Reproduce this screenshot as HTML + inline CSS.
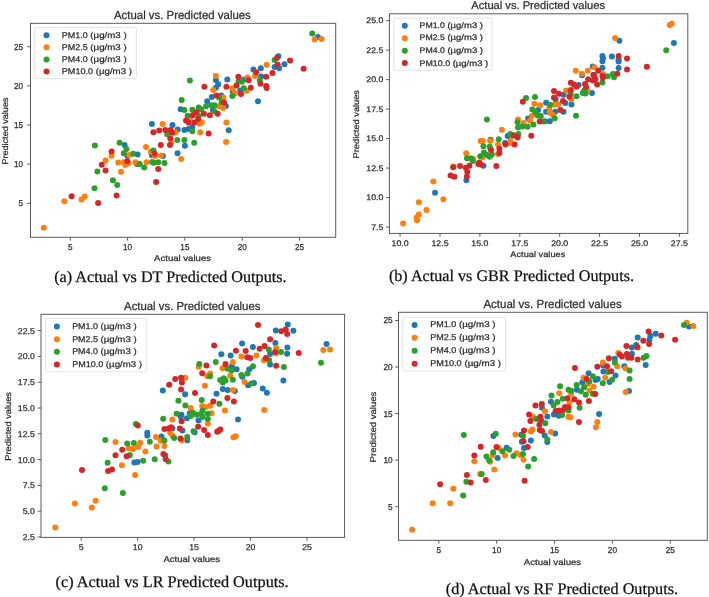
<!DOCTYPE html>
<html><head><meta charset="utf-8"><style>
html,body{margin:0;padding:0;background:#fff;}
svg{display:block;filter:blur(0px);}
</style></head><body>
<svg text-rendering="geometricPrecision" width="709" height="597" viewBox="0 0 709 597">
<rect width="709" height="597" fill="#fff"/>
<circle cx="124.6" cy="145.1" r="3.0" fill="#1f77b4"/>
<circle cx="127.5" cy="155.9" r="3.0" fill="#1f77b4"/>
<circle cx="137.6" cy="154.5" r="3.0" fill="#1f77b4"/>
<circle cx="137.0" cy="163.9" r="3.0" fill="#1f77b4"/>
<circle cx="151.8" cy="154.9" r="3.0" fill="#1f77b4"/>
<circle cx="162.9" cy="155.9" r="3.0" fill="#1f77b4"/>
<circle cx="151.9" cy="124.1" r="3.0" fill="#1f77b4"/>
<circle cx="172.5" cy="124.9" r="3.0" fill="#1f77b4"/>
<circle cx="177.7" cy="129.6" r="3.0" fill="#1f77b4"/>
<circle cx="184.4" cy="130.1" r="3.0" fill="#1f77b4"/>
<circle cx="188.6" cy="129.1" r="3.0" fill="#1f77b4"/>
<circle cx="192.3" cy="127.0" r="3.0" fill="#1f77b4"/>
<circle cx="184.9" cy="145.7" r="3.0" fill="#1f77b4"/>
<circle cx="177.5" cy="153.2" r="3.0" fill="#1f77b4"/>
<circle cx="180.7" cy="109.3" r="3.0" fill="#1f77b4"/>
<circle cx="212.9" cy="110.0" r="3.0" fill="#1f77b4"/>
<circle cx="207.1" cy="101.3" r="3.0" fill="#1f77b4"/>
<circle cx="215.9" cy="79.9" r="3.0" fill="#1f77b4"/>
<circle cx="218.2" cy="84.3" r="3.0" fill="#1f77b4"/>
<circle cx="215.9" cy="87.7" r="3.0" fill="#1f77b4"/>
<circle cx="227.3" cy="79.6" r="3.0" fill="#1f77b4"/>
<circle cx="232.8" cy="91.2" r="3.0" fill="#1f77b4"/>
<circle cx="243.9" cy="79.6" r="3.0" fill="#1f77b4"/>
<circle cx="240.2" cy="90.5" r="3.0" fill="#1f77b4"/>
<circle cx="253.4" cy="69.5" r="3.0" fill="#1f77b4"/>
<circle cx="260.8" cy="68.3" r="3.0" fill="#1f77b4"/>
<circle cx="274.6" cy="66.9" r="3.0" fill="#1f77b4"/>
<circle cx="261.1" cy="76.4" r="3.0" fill="#1f77b4"/>
<circle cx="258.0" cy="101.3" r="3.0" fill="#1f77b4"/>
<circle cx="211.8" cy="97.0" r="3.0" fill="#1f77b4"/>
<circle cx="221.2" cy="95.4" r="3.0" fill="#1f77b4"/>
<circle cx="225.9" cy="106.0" r="3.0" fill="#1f77b4"/>
<circle cx="317.9" cy="37.0" r="3.0" fill="#1f77b4"/>
<circle cx="278.4" cy="56.3" r="3.0" fill="#1f77b4"/>
<circle cx="284.4" cy="64.3" r="3.0" fill="#1f77b4"/>
<circle cx="279.1" cy="68.3" r="3.0" fill="#1f77b4"/>
<circle cx="228.7" cy="130.2" r="3.0" fill="#1f77b4"/>
<circle cx="43.8" cy="227.8" r="3.0" fill="#ff7f0e"/>
<circle cx="64.3" cy="201.2" r="3.0" fill="#ff7f0e"/>
<circle cx="81.5" cy="199.4" r="3.0" fill="#ff7f0e"/>
<circle cx="84.7" cy="196.6" r="3.0" fill="#ff7f0e"/>
<circle cx="105.6" cy="160.6" r="3.0" fill="#ff7f0e"/>
<circle cx="111.5" cy="155.7" r="3.0" fill="#ff7f0e"/>
<circle cx="118.3" cy="162.5" r="3.0" fill="#ff7f0e"/>
<circle cx="121.0" cy="171.8" r="3.0" fill="#ff7f0e"/>
<circle cx="125.2" cy="165.0" r="3.0" fill="#ff7f0e"/>
<circle cx="123.8" cy="162.3" r="3.0" fill="#ff7f0e"/>
<circle cx="128.6" cy="163.3" r="3.0" fill="#ff7f0e"/>
<circle cx="129.1" cy="155.1" r="3.0" fill="#ff7f0e"/>
<circle cx="135.4" cy="162.3" r="3.0" fill="#ff7f0e"/>
<circle cx="146.5" cy="162.3" r="3.0" fill="#ff7f0e"/>
<circle cx="146.0" cy="146.9" r="3.0" fill="#ff7f0e"/>
<circle cx="150.8" cy="151.7" r="3.0" fill="#ff7f0e"/>
<circle cx="154.8" cy="155.9" r="3.0" fill="#ff7f0e"/>
<circle cx="161.0" cy="155.4" r="3.0" fill="#ff7f0e"/>
<circle cx="171.4" cy="142.5" r="3.0" fill="#ff7f0e"/>
<circle cx="162.7" cy="124.1" r="3.0" fill="#ff7f0e"/>
<circle cx="175.4" cy="132.6" r="3.0" fill="#ff7f0e"/>
<circle cx="200.2" cy="132.3" r="3.0" fill="#ff7f0e"/>
<circle cx="181.2" cy="159.0" r="3.0" fill="#ff7f0e"/>
<circle cx="189.7" cy="119.0" r="3.0" fill="#ff7f0e"/>
<circle cx="199.2" cy="123.8" r="3.0" fill="#ff7f0e"/>
<circle cx="201.8" cy="122.4" r="3.0" fill="#ff7f0e"/>
<circle cx="218.8" cy="106.3" r="3.0" fill="#ff7f0e"/>
<circle cx="223.0" cy="107.9" r="3.0" fill="#ff7f0e"/>
<circle cx="215.9" cy="75.7" r="3.0" fill="#ff7f0e"/>
<circle cx="213.2" cy="90.1" r="3.0" fill="#ff7f0e"/>
<circle cx="232.3" cy="88.3" r="3.0" fill="#ff7f0e"/>
<circle cx="247.6" cy="77.5" r="3.0" fill="#ff7f0e"/>
<circle cx="246.5" cy="90.7" r="3.0" fill="#ff7f0e"/>
<circle cx="234.9" cy="93.6" r="3.0" fill="#ff7f0e"/>
<circle cx="266.6" cy="64.8" r="3.0" fill="#ff7f0e"/>
<circle cx="255.0" cy="75.9" r="3.0" fill="#ff7f0e"/>
<circle cx="223.3" cy="97.6" r="3.0" fill="#ff7f0e"/>
<circle cx="226.4" cy="122.4" r="3.0" fill="#ff7f0e"/>
<circle cx="314.6" cy="39.4" r="3.0" fill="#ff7f0e"/>
<circle cx="321.6" cy="38.9" r="3.0" fill="#ff7f0e"/>
<circle cx="226.1" cy="141.9" r="3.0" fill="#ff7f0e"/>
<circle cx="94.5" cy="188.3" r="3.0" fill="#2ca02c"/>
<circle cx="112.9" cy="180.2" r="3.0" fill="#2ca02c"/>
<circle cx="117.2" cy="185.0" r="3.0" fill="#2ca02c"/>
<circle cx="97.4" cy="171.6" r="3.0" fill="#2ca02c"/>
<circle cx="119.6" cy="142.7" r="3.0" fill="#2ca02c"/>
<circle cx="126.4" cy="149.0" r="3.0" fill="#2ca02c"/>
<circle cx="123.8" cy="153.3" r="3.0" fill="#2ca02c"/>
<circle cx="133.3" cy="153.8" r="3.0" fill="#2ca02c"/>
<circle cx="139.7" cy="164.1" r="3.0" fill="#2ca02c"/>
<circle cx="144.2" cy="167.6" r="3.0" fill="#2ca02c"/>
<circle cx="153.4" cy="150.6" r="3.0" fill="#2ca02c"/>
<circle cx="153.9" cy="162.8" r="3.0" fill="#2ca02c"/>
<circle cx="158.2" cy="162.3" r="3.0" fill="#2ca02c"/>
<circle cx="164.5" cy="163.0" r="3.0" fill="#2ca02c"/>
<circle cx="167.2" cy="134.2" r="3.0" fill="#2ca02c"/>
<circle cx="177.3" cy="140.0" r="3.0" fill="#2ca02c"/>
<circle cx="192.3" cy="131.2" r="3.0" fill="#2ca02c"/>
<circle cx="184.4" cy="140.0" r="3.0" fill="#2ca02c"/>
<circle cx="194.2" cy="142.8" r="3.0" fill="#2ca02c"/>
<circle cx="152.1" cy="161.9" r="3.0" fill="#2ca02c"/>
<circle cx="184.4" cy="110.0" r="3.0" fill="#2ca02c"/>
<circle cx="187.6" cy="115.7" r="3.0" fill="#2ca02c"/>
<circle cx="192.3" cy="109.7" r="3.0" fill="#2ca02c"/>
<circle cx="198.7" cy="107.4" r="3.0" fill="#2ca02c"/>
<circle cx="201.3" cy="109.5" r="3.0" fill="#2ca02c"/>
<circle cx="198.7" cy="115.9" r="3.0" fill="#2ca02c"/>
<circle cx="206.1" cy="106.3" r="3.0" fill="#2ca02c"/>
<circle cx="211.4" cy="105.3" r="3.0" fill="#2ca02c"/>
<circle cx="214.5" cy="105.3" r="3.0" fill="#2ca02c"/>
<circle cx="214.5" cy="111.6" r="3.0" fill="#2ca02c"/>
<circle cx="181.7" cy="100.0" r="3.0" fill="#2ca02c"/>
<circle cx="94.9" cy="145.6" r="3.0" fill="#2ca02c"/>
<circle cx="238.6" cy="81.2" r="3.0" fill="#2ca02c"/>
<circle cx="241.8" cy="81.7" r="3.0" fill="#2ca02c"/>
<circle cx="243.9" cy="88.3" r="3.0" fill="#2ca02c"/>
<circle cx="232.3" cy="96.0" r="3.0" fill="#2ca02c"/>
<circle cx="274.6" cy="60.0" r="3.0" fill="#2ca02c"/>
<circle cx="259.8" cy="80.6" r="3.0" fill="#2ca02c"/>
<circle cx="219.0" cy="97.6" r="3.0" fill="#2ca02c"/>
<circle cx="221.7" cy="102.3" r="3.0" fill="#2ca02c"/>
<circle cx="312.2" cy="33.6" r="3.0" fill="#2ca02c"/>
<circle cx="189.9" cy="80.4" r="3.0" fill="#2ca02c"/>
<circle cx="71.6" cy="196.3" r="3.0" fill="#d62728"/>
<circle cx="98.1" cy="202.9" r="3.0" fill="#d62728"/>
<circle cx="116.6" cy="195.5" r="3.0" fill="#d62728"/>
<circle cx="101.8" cy="164.7" r="3.0" fill="#d62728"/>
<circle cx="105.5" cy="170.6" r="3.0" fill="#d62728"/>
<circle cx="127.3" cy="161.3" r="3.0" fill="#d62728"/>
<circle cx="111.6" cy="151.5" r="3.0" fill="#d62728"/>
<circle cx="154.8" cy="153.8" r="3.0" fill="#d62728"/>
<circle cx="158.2" cy="168.9" r="3.0" fill="#d62728"/>
<circle cx="156.1" cy="182.0" r="3.0" fill="#d62728"/>
<circle cx="160.8" cy="145.1" r="3.0" fill="#d62728"/>
<circle cx="170.0" cy="145.1" r="3.0" fill="#d62728"/>
<circle cx="170.3" cy="138.5" r="3.0" fill="#d62728"/>
<circle cx="153.4" cy="132.3" r="3.0" fill="#d62728"/>
<circle cx="159.2" cy="130.5" r="3.0" fill="#d62728"/>
<circle cx="165.3" cy="130.1" r="3.0" fill="#d62728"/>
<circle cx="170.6" cy="130.1" r="3.0" fill="#d62728"/>
<circle cx="172.2" cy="132.8" r="3.0" fill="#d62728"/>
<circle cx="208.7" cy="133.6" r="3.0" fill="#d62728"/>
<circle cx="192.8" cy="115.3" r="3.0" fill="#d62728"/>
<circle cx="196.5" cy="112.2" r="3.0" fill="#d62728"/>
<circle cx="203.9" cy="113.8" r="3.0" fill="#d62728"/>
<circle cx="186.0" cy="120.6" r="3.0" fill="#d62728"/>
<circle cx="188.6" cy="122.4" r="3.0" fill="#d62728"/>
<circle cx="194.4" cy="122.4" r="3.0" fill="#d62728"/>
<circle cx="198.1" cy="119.0" r="3.0" fill="#d62728"/>
<circle cx="209.8" cy="115.3" r="3.0" fill="#d62728"/>
<circle cx="217.7" cy="113.8" r="3.0" fill="#d62728"/>
<circle cx="224.0" cy="102.6" r="3.0" fill="#d62728"/>
<circle cx="204.4" cy="86.7" r="3.0" fill="#d62728"/>
<circle cx="226.4" cy="86.7" r="3.0" fill="#d62728"/>
<circle cx="236.5" cy="85.4" r="3.0" fill="#d62728"/>
<circle cx="238.3" cy="76.7" r="3.0" fill="#d62728"/>
<circle cx="248.7" cy="80.3" r="3.0" fill="#d62728"/>
<circle cx="250.8" cy="87.7" r="3.0" fill="#d62728"/>
<circle cx="241.0" cy="94.1" r="3.0" fill="#d62728"/>
<circle cx="256.1" cy="72.2" r="3.0" fill="#d62728"/>
<circle cx="266.1" cy="76.7" r="3.0" fill="#d62728"/>
<circle cx="272.5" cy="72.9" r="3.0" fill="#d62728"/>
<circle cx="260.5" cy="83.8" r="3.0" fill="#d62728"/>
<circle cx="266.6" cy="88.0" r="3.0" fill="#d62728"/>
<circle cx="216.4" cy="95.4" r="3.0" fill="#d62728"/>
<circle cx="277.0" cy="57.7" r="3.0" fill="#d62728"/>
<circle cx="290.0" cy="60.6" r="3.0" fill="#d62728"/>
<circle cx="277.7" cy="64.8" r="3.0" fill="#d62728"/>
<circle cx="303.6" cy="68.7" r="3.0" fill="#d62728"/>
<circle cx="266.2" cy="85.9" r="3.0" fill="#d62728"/>
<rect x="30.5" y="23.3" width="305.20" height="214.00" fill="none" stroke="#5a5a5a" stroke-width="1.0"/>
<line x1="70.30" y1="237.3" x2="70.30" y2="240.60000000000002" stroke="#5a5a5a" stroke-width="1.0"/>
<text x="70.30" y="249.80" font-size="8.60" font-family="'Liberation Sans', sans-serif" fill="#2e2e2e" stroke="#2e2e2e" stroke-width="0.25" text-anchor="middle" textLength="4.55" lengthAdjust="spacingAndGlyphs">5</text>
<line x1="127.60" y1="237.3" x2="127.60" y2="240.60000000000002" stroke="#5a5a5a" stroke-width="1.0"/>
<text x="127.60" y="249.80" font-size="8.60" font-family="'Liberation Sans', sans-serif" fill="#2e2e2e" stroke="#2e2e2e" stroke-width="0.25" text-anchor="middle" textLength="9.10" lengthAdjust="spacingAndGlyphs">10</text>
<line x1="184.90" y1="237.3" x2="184.90" y2="240.60000000000002" stroke="#5a5a5a" stroke-width="1.0"/>
<text x="184.90" y="249.80" font-size="8.60" font-family="'Liberation Sans', sans-serif" fill="#2e2e2e" stroke="#2e2e2e" stroke-width="0.25" text-anchor="middle" textLength="9.10" lengthAdjust="spacingAndGlyphs">15</text>
<line x1="242.20" y1="237.3" x2="242.20" y2="240.60000000000002" stroke="#5a5a5a" stroke-width="1.0"/>
<text x="242.20" y="249.80" font-size="8.60" font-family="'Liberation Sans', sans-serif" fill="#2e2e2e" stroke="#2e2e2e" stroke-width="0.25" text-anchor="middle" textLength="9.10" lengthAdjust="spacingAndGlyphs">20</text>
<line x1="299.50" y1="237.3" x2="299.50" y2="240.60000000000002" stroke="#5a5a5a" stroke-width="1.0"/>
<text x="299.50" y="249.80" font-size="8.60" font-family="'Liberation Sans', sans-serif" fill="#2e2e2e" stroke="#2e2e2e" stroke-width="0.25" text-anchor="middle" textLength="9.10" lengthAdjust="spacingAndGlyphs">25</text>
<line x1="27.2" y1="203.30" x2="30.5" y2="203.30" stroke="#5a5a5a" stroke-width="1.0"/>
<text x="23.10" y="206.25" font-size="8.60" font-family="'Liberation Sans', sans-serif" fill="#2e2e2e" stroke="#2e2e2e" stroke-width="0.25" text-anchor="end" textLength="4.55" lengthAdjust="spacingAndGlyphs">5</text>
<line x1="27.2" y1="164.16" x2="30.5" y2="164.16" stroke="#5a5a5a" stroke-width="1.0"/>
<text x="23.10" y="167.11" font-size="8.60" font-family="'Liberation Sans', sans-serif" fill="#2e2e2e" stroke="#2e2e2e" stroke-width="0.25" text-anchor="end" textLength="9.10" lengthAdjust="spacingAndGlyphs">10</text>
<line x1="27.2" y1="125.02" x2="30.5" y2="125.02" stroke="#5a5a5a" stroke-width="1.0"/>
<text x="23.10" y="127.97" font-size="8.60" font-family="'Liberation Sans', sans-serif" fill="#2e2e2e" stroke="#2e2e2e" stroke-width="0.25" text-anchor="end" textLength="9.10" lengthAdjust="spacingAndGlyphs">15</text>
<line x1="27.2" y1="85.88" x2="30.5" y2="85.88" stroke="#5a5a5a" stroke-width="1.0"/>
<text x="23.10" y="88.83" font-size="8.60" font-family="'Liberation Sans', sans-serif" fill="#2e2e2e" stroke="#2e2e2e" stroke-width="0.25" text-anchor="end" textLength="9.10" lengthAdjust="spacingAndGlyphs">20</text>
<line x1="27.2" y1="46.74" x2="30.5" y2="46.74" stroke="#5a5a5a" stroke-width="1.0"/>
<text x="23.10" y="49.69" font-size="8.60" font-family="'Liberation Sans', sans-serif" fill="#2e2e2e" stroke="#2e2e2e" stroke-width="0.25" text-anchor="end" textLength="9.10" lengthAdjust="spacingAndGlyphs">25</text>
<text x="114.00" y="19.20" font-size="11.70" font-family="'Liberation Sans', sans-serif" fill="#2e2e2e" stroke="#2e2e2e" stroke-width="0.25" text-anchor="start" textLength="136.80" lengthAdjust="spacingAndGlyphs">Actual vs. Predicted values</text>
<text x="154.10" y="260.90" font-size="8.40" font-family="'Liberation Sans', sans-serif" fill="#2e2e2e" stroke="#2e2e2e" stroke-width="0.25" text-anchor="start" textLength="56.90" lengthAdjust="spacingAndGlyphs">Actual values</text>
<g transform="translate(7.6,164.6) rotate(-90)"><text x="0.00" y="0.00" font-size="8.40" font-family="'Liberation Sans', sans-serif" fill="#2e2e2e" stroke="#2e2e2e" stroke-width="0.25" text-anchor="start" textLength="67.10" lengthAdjust="spacingAndGlyphs">Predicted values</text></g>
<rect x="34.7" y="27.6" width="101.60" height="50.80" rx="1.5" fill="#ffffff" fill-opacity="0.8" stroke="#dcdcdc" stroke-width="0.8"/>
<circle cx="46.5" cy="35.2" r="3.0" fill="#1f77b4"/>
<text x="61.80" y="37.80" font-size="8.30" font-family="'Liberation Sans', sans-serif" fill="#2e2e2e" stroke="#2e2e2e" stroke-width="0.25" text-anchor="start" textLength="25.83" lengthAdjust="spacingAndGlyphs">PM1.0</text>
<text x="90.32" y="37.80" font-size="8.30" font-family="'Liberation Sans', sans-serif" fill="#2e2e2e" stroke="#2e2e2e" stroke-width="0.25" text-anchor="start" textLength="36.35" lengthAdjust="spacingAndGlyphs">(µg/m3 )</text>
<circle cx="46.5" cy="47.33" r="3.0" fill="#ff7f0e"/>
<text x="61.80" y="49.80" font-size="8.30" font-family="'Liberation Sans', sans-serif" fill="#2e2e2e" stroke="#2e2e2e" stroke-width="0.25" text-anchor="start" textLength="25.83" lengthAdjust="spacingAndGlyphs">PM2.5</text>
<text x="90.32" y="49.80" font-size="8.30" font-family="'Liberation Sans', sans-serif" fill="#2e2e2e" stroke="#2e2e2e" stroke-width="0.25" text-anchor="start" textLength="36.35" lengthAdjust="spacingAndGlyphs">(µg/m3 )</text>
<circle cx="46.5" cy="59.47" r="3.0" fill="#2ca02c"/>
<text x="61.80" y="61.80" font-size="8.30" font-family="'Liberation Sans', sans-serif" fill="#2e2e2e" stroke="#2e2e2e" stroke-width="0.25" text-anchor="start" textLength="25.83" lengthAdjust="spacingAndGlyphs">PM4.0</text>
<text x="90.32" y="61.80" font-size="8.30" font-family="'Liberation Sans', sans-serif" fill="#2e2e2e" stroke="#2e2e2e" stroke-width="0.25" text-anchor="start" textLength="36.35" lengthAdjust="spacingAndGlyphs">(µg/m3 )</text>
<circle cx="46.5" cy="71.6" r="3.0" fill="#d62728"/>
<text x="61.80" y="73.80" font-size="8.30" font-family="'Liberation Sans', sans-serif" fill="#2e2e2e" stroke="#2e2e2e" stroke-width="0.25" text-anchor="start" textLength="31.21" lengthAdjust="spacingAndGlyphs">PM10.0</text>
<text x="95.69" y="73.80" font-size="8.30" font-family="'Liberation Sans', sans-serif" fill="#2e2e2e" stroke="#2e2e2e" stroke-width="0.25" text-anchor="start" textLength="36.35" lengthAdjust="spacingAndGlyphs">(µg/m3 )</text>
<text x="54.20" y="281.60" font-size="16.20" font-family="'Liberation Serif', serif" fill="#111111" stroke="#111111" stroke-width="0.25" text-anchor="start" textLength="232.40" lengthAdjust="spacingAndGlyphs">(a) Actual vs DT Predicted Outputs.</text>
<circle cx="435.0" cy="192.8" r="3.0" fill="#1f77b4"/>
<circle cx="466.4" cy="180.3" r="3.0" fill="#1f77b4"/>
<circle cx="483.4" cy="165.7" r="3.0" fill="#1f77b4"/>
<circle cx="490.6" cy="139.8" r="3.0" fill="#1f77b4"/>
<circle cx="505.1" cy="143.0" r="3.0" fill="#1f77b4"/>
<circle cx="507.7" cy="136.1" r="3.0" fill="#1f77b4"/>
<circle cx="528.1" cy="118.6" r="3.0" fill="#1f77b4"/>
<circle cx="545.0" cy="121.2" r="3.0" fill="#1f77b4"/>
<circle cx="549.8" cy="121.2" r="3.0" fill="#1f77b4"/>
<circle cx="538.1" cy="110.1" r="3.0" fill="#1f77b4"/>
<circle cx="546.1" cy="102.7" r="3.0" fill="#1f77b4"/>
<circle cx="546.1" cy="111.7" r="3.0" fill="#1f77b4"/>
<circle cx="555.1" cy="111.7" r="3.0" fill="#1f77b4"/>
<circle cx="563.5" cy="111.7" r="3.0" fill="#1f77b4"/>
<circle cx="555.6" cy="99.5" r="3.0" fill="#1f77b4"/>
<circle cx="563.5" cy="94.8" r="3.0" fill="#1f77b4"/>
<circle cx="565.4" cy="103.1" r="3.0" fill="#1f77b4"/>
<circle cx="571.5" cy="104.5" r="3.0" fill="#1f77b4"/>
<circle cx="592.0" cy="92.9" r="3.0" fill="#1f77b4"/>
<circle cx="578.6" cy="85.1" r="3.0" fill="#1f77b4"/>
<circle cx="595.5" cy="79.3" r="3.0" fill="#1f77b4"/>
<circle cx="582.1" cy="75.3" r="3.0" fill="#1f77b4"/>
<circle cx="592.7" cy="66.4" r="3.0" fill="#1f77b4"/>
<circle cx="602.4" cy="67.7" r="3.0" fill="#1f77b4"/>
<circle cx="602.4" cy="61.3" r="3.0" fill="#1f77b4"/>
<circle cx="602.9" cy="58.2" r="3.0" fill="#1f77b4"/>
<circle cx="602.4" cy="56.1" r="3.0" fill="#1f77b4"/>
<circle cx="611.9" cy="56.6" r="3.0" fill="#1f77b4"/>
<circle cx="619.4" cy="40.7" r="3.0" fill="#1f77b4"/>
<circle cx="618.6" cy="59.5" r="3.0" fill="#1f77b4"/>
<circle cx="618.6" cy="61.6" r="3.0" fill="#1f77b4"/>
<circle cx="618.6" cy="67.9" r="3.0" fill="#1f77b4"/>
<circle cx="673.9" cy="43.1" r="3.0" fill="#1f77b4"/>
<circle cx="593.3" cy="74.8" r="3.0" fill="#1f77b4"/>
<circle cx="403.1" cy="223.5" r="3.0" fill="#ff7f0e"/>
<circle cx="416.7" cy="217.4" r="3.0" fill="#ff7f0e"/>
<circle cx="417.0" cy="220.2" r="3.0" fill="#ff7f0e"/>
<circle cx="418.8" cy="214.5" r="3.0" fill="#ff7f0e"/>
<circle cx="426.5" cy="210.0" r="3.0" fill="#ff7f0e"/>
<circle cx="418.8" cy="202.2" r="3.0" fill="#ff7f0e"/>
<circle cx="433.3" cy="181.4" r="3.0" fill="#ff7f0e"/>
<circle cx="443.4" cy="199.2" r="3.0" fill="#ff7f0e"/>
<circle cx="453.5" cy="166.5" r="3.0" fill="#ff7f0e"/>
<circle cx="466.2" cy="153.3" r="3.0" fill="#ff7f0e"/>
<circle cx="473.3" cy="159.1" r="3.0" fill="#ff7f0e"/>
<circle cx="482.8" cy="157.3" r="3.0" fill="#ff7f0e"/>
<circle cx="480.7" cy="140.9" r="3.0" fill="#ff7f0e"/>
<circle cx="482.8" cy="140.9" r="3.0" fill="#ff7f0e"/>
<circle cx="490.2" cy="140.9" r="3.0" fill="#ff7f0e"/>
<circle cx="498.0" cy="144.6" r="3.0" fill="#ff7f0e"/>
<circle cx="498.0" cy="154.1" r="3.0" fill="#ff7f0e"/>
<circle cx="501.9" cy="129.8" r="3.0" fill="#ff7f0e"/>
<circle cx="510.3" cy="140.9" r="3.0" fill="#ff7f0e"/>
<circle cx="510.3" cy="142.9" r="3.0" fill="#ff7f0e"/>
<circle cx="518.0" cy="119.6" r="3.0" fill="#ff7f0e"/>
<circle cx="523.6" cy="123.0" r="3.0" fill="#ff7f0e"/>
<circle cx="530.0" cy="120.7" r="3.0" fill="#ff7f0e"/>
<circle cx="531.8" cy="115.9" r="3.0" fill="#ff7f0e"/>
<circle cx="534.4" cy="103.8" r="3.0" fill="#ff7f0e"/>
<circle cx="540.2" cy="105.3" r="3.0" fill="#ff7f0e"/>
<circle cx="554.5" cy="104.8" r="3.0" fill="#ff7f0e"/>
<circle cx="558.2" cy="104.3" r="3.0" fill="#ff7f0e"/>
<circle cx="549.2" cy="108.5" r="3.0" fill="#ff7f0e"/>
<circle cx="549.8" cy="112.7" r="3.0" fill="#ff7f0e"/>
<circle cx="552.9" cy="114.9" r="3.0" fill="#ff7f0e"/>
<circle cx="566.2" cy="90.4" r="3.0" fill="#ff7f0e"/>
<circle cx="571.2" cy="99.2" r="3.0" fill="#ff7f0e"/>
<circle cx="587.6" cy="91.0" r="3.0" fill="#ff7f0e"/>
<circle cx="575.8" cy="70.7" r="3.0" fill="#ff7f0e"/>
<circle cx="581.8" cy="73.8" r="3.0" fill="#ff7f0e"/>
<circle cx="587.8" cy="70.7" r="3.0" fill="#ff7f0e"/>
<circle cx="594.5" cy="67.2" r="3.0" fill="#ff7f0e"/>
<circle cx="602.9" cy="74.0" r="3.0" fill="#ff7f0e"/>
<circle cx="615.1" cy="38.1" r="3.0" fill="#ff7f0e"/>
<circle cx="669.7" cy="25.1" r="3.0" fill="#ff7f0e"/>
<circle cx="671.8" cy="23.7" r="3.0" fill="#ff7f0e"/>
<circle cx="467.0" cy="158.3" r="3.0" fill="#2ca02c"/>
<circle cx="470.7" cy="158.3" r="3.0" fill="#2ca02c"/>
<circle cx="472.8" cy="161.0" r="3.0" fill="#2ca02c"/>
<circle cx="480.2" cy="156.2" r="3.0" fill="#2ca02c"/>
<circle cx="483.9" cy="152.5" r="3.0" fill="#2ca02c"/>
<circle cx="487.1" cy="155.1" r="3.0" fill="#2ca02c"/>
<circle cx="489.7" cy="156.7" r="3.0" fill="#2ca02c"/>
<circle cx="491.8" cy="154.6" r="3.0" fill="#2ca02c"/>
<circle cx="483.4" cy="146.2" r="3.0" fill="#2ca02c"/>
<circle cx="489.7" cy="146.7" r="3.0" fill="#2ca02c"/>
<circle cx="498.7" cy="139.3" r="3.0" fill="#2ca02c"/>
<circle cx="510.3" cy="134.0" r="3.0" fill="#2ca02c"/>
<circle cx="512.8" cy="135.6" r="3.0" fill="#2ca02c"/>
<circle cx="518.3" cy="133.9" r="3.0" fill="#2ca02c"/>
<circle cx="517.5" cy="122.3" r="3.0" fill="#2ca02c"/>
<circle cx="518.0" cy="127.6" r="3.0" fill="#2ca02c"/>
<circle cx="522.3" cy="126.5" r="3.0" fill="#2ca02c"/>
<circle cx="527.6" cy="126.8" r="3.0" fill="#2ca02c"/>
<circle cx="533.4" cy="124.4" r="3.0" fill="#2ca02c"/>
<circle cx="532.3" cy="109.6" r="3.0" fill="#2ca02c"/>
<circle cx="535.5" cy="112.2" r="3.0" fill="#2ca02c"/>
<circle cx="537.6" cy="115.4" r="3.0" fill="#2ca02c"/>
<circle cx="540.8" cy="115.9" r="3.0" fill="#2ca02c"/>
<circle cx="543.4" cy="121.5" r="3.0" fill="#2ca02c"/>
<circle cx="526.0" cy="97.9" r="3.0" fill="#2ca02c"/>
<circle cx="535.0" cy="96.9" r="3.0" fill="#2ca02c"/>
<circle cx="550.1" cy="104.8" r="3.0" fill="#2ca02c"/>
<circle cx="554.7" cy="118.3" r="3.0" fill="#2ca02c"/>
<circle cx="576.0" cy="115.8" r="3.0" fill="#2ca02c"/>
<circle cx="576.5" cy="96.3" r="3.0" fill="#2ca02c"/>
<circle cx="570.7" cy="94.1" r="3.0" fill="#2ca02c"/>
<circle cx="582.8" cy="93.1" r="3.0" fill="#2ca02c"/>
<circle cx="585.5" cy="93.6" r="3.0" fill="#2ca02c"/>
<circle cx="602.4" cy="82.5" r="3.0" fill="#2ca02c"/>
<circle cx="607.7" cy="76.2" r="3.0" fill="#2ca02c"/>
<circle cx="613.0" cy="74.0" r="3.0" fill="#2ca02c"/>
<circle cx="614.0" cy="77.2" r="3.0" fill="#2ca02c"/>
<circle cx="666.2" cy="50.2" r="3.0" fill="#2ca02c"/>
<circle cx="486.9" cy="119.6" r="3.0" fill="#2ca02c"/>
<circle cx="584.3" cy="90.6" r="3.0" fill="#2ca02c"/>
<circle cx="450.5" cy="175.4" r="3.0" fill="#d62728"/>
<circle cx="454.4" cy="176.8" r="3.0" fill="#d62728"/>
<circle cx="453.2" cy="167.3" r="3.0" fill="#d62728"/>
<circle cx="460.1" cy="166.1" r="3.0" fill="#d62728"/>
<circle cx="466.9" cy="176.6" r="3.0" fill="#d62728"/>
<circle cx="467.3" cy="172.1" r="3.0" fill="#d62728"/>
<circle cx="465.9" cy="167.8" r="3.0" fill="#d62728"/>
<circle cx="469.4" cy="165.7" r="3.0" fill="#d62728"/>
<circle cx="478.3" cy="164.1" r="3.0" fill="#d62728"/>
<circle cx="480.7" cy="164.4" r="3.0" fill="#d62728"/>
<circle cx="491.0" cy="149.9" r="3.0" fill="#d62728"/>
<circle cx="499.4" cy="148.8" r="3.0" fill="#d62728"/>
<circle cx="499.4" cy="153.0" r="3.0" fill="#d62728"/>
<circle cx="496.3" cy="166.0" r="3.0" fill="#d62728"/>
<circle cx="505.6" cy="144.6" r="3.0" fill="#d62728"/>
<circle cx="514.0" cy="135.6" r="3.0" fill="#d62728"/>
<circle cx="514.6" cy="144.6" r="3.0" fill="#d62728"/>
<circle cx="517.7" cy="137.4" r="3.0" fill="#d62728"/>
<circle cx="531.3" cy="135.7" r="3.0" fill="#d62728"/>
<circle cx="539.7" cy="121.5" r="3.0" fill="#d62728"/>
<circle cx="522.8" cy="101.8" r="3.0" fill="#d62728"/>
<circle cx="560.3" cy="110.1" r="3.0" fill="#d62728"/>
<circle cx="563.0" cy="101.1" r="3.0" fill="#d62728"/>
<circle cx="554.0" cy="97.4" r="3.0" fill="#d62728"/>
<circle cx="558.8" cy="93.7" r="3.0" fill="#d62728"/>
<circle cx="554.0" cy="91.1" r="3.0" fill="#d62728"/>
<circle cx="570.9" cy="89.9" r="3.0" fill="#d62728"/>
<circle cx="569.4" cy="96.5" r="3.0" fill="#d62728"/>
<circle cx="570.9" cy="82.7" r="3.0" fill="#d62728"/>
<circle cx="573.9" cy="84.6" r="3.0" fill="#d62728"/>
<circle cx="576.5" cy="86.7" r="3.0" fill="#d62728"/>
<circle cx="585.0" cy="84.1" r="3.0" fill="#d62728"/>
<circle cx="586.0" cy="86.7" r="3.0" fill="#d62728"/>
<circle cx="588.1" cy="79.3" r="3.0" fill="#d62728"/>
<circle cx="592.9" cy="80.4" r="3.0" fill="#d62728"/>
<circle cx="597.1" cy="84.4" r="3.0" fill="#d62728"/>
<circle cx="593.9" cy="75.1" r="3.0" fill="#d62728"/>
<circle cx="598.2" cy="70.7" r="3.0" fill="#d62728"/>
<circle cx="602.9" cy="77.7" r="3.0" fill="#d62728"/>
<circle cx="618.6" cy="56.1" r="3.0" fill="#d62728"/>
<circle cx="627.0" cy="58.4" r="3.0" fill="#d62728"/>
<circle cx="627.0" cy="69.5" r="3.0" fill="#d62728"/>
<circle cx="646.9" cy="66.7" r="3.0" fill="#d62728"/>
<circle cx="602.5" cy="75.9" r="3.0" fill="#d62728"/>
<circle cx="617.3" cy="73.8" r="3.0" fill="#d62728"/>
<circle cx="479.3" cy="162.4" r="3.0" fill="#d62728"/>
<circle cx="594.9" cy="78.5" r="3.0" fill="#d62728"/>
<rect x="389.4" y="13.8" width="298.40" height="219.60" fill="none" stroke="#5a5a5a" stroke-width="1.0"/>
<line x1="400.10" y1="233.4" x2="400.10" y2="236.70000000000002" stroke="#5a5a5a" stroke-width="1.0"/>
<text x="400.10" y="245.80" font-size="8.10" font-family="'Liberation Sans', sans-serif" fill="#2e2e2e" stroke="#2e2e2e" stroke-width="0.25" text-anchor="middle" textLength="17.08" lengthAdjust="spacingAndGlyphs">10.0</text>
<line x1="440.00" y1="233.4" x2="440.00" y2="236.70000000000002" stroke="#5a5a5a" stroke-width="1.0"/>
<text x="440.00" y="245.80" font-size="8.10" font-family="'Liberation Sans', sans-serif" fill="#2e2e2e" stroke="#2e2e2e" stroke-width="0.25" text-anchor="middle" textLength="17.08" lengthAdjust="spacingAndGlyphs">12.5</text>
<line x1="479.90" y1="233.4" x2="479.90" y2="236.70000000000002" stroke="#5a5a5a" stroke-width="1.0"/>
<text x="479.90" y="245.80" font-size="8.10" font-family="'Liberation Sans', sans-serif" fill="#2e2e2e" stroke="#2e2e2e" stroke-width="0.25" text-anchor="middle" textLength="17.08" lengthAdjust="spacingAndGlyphs">15.0</text>
<line x1="519.80" y1="233.4" x2="519.80" y2="236.70000000000002" stroke="#5a5a5a" stroke-width="1.0"/>
<text x="519.80" y="245.80" font-size="8.10" font-family="'Liberation Sans', sans-serif" fill="#2e2e2e" stroke="#2e2e2e" stroke-width="0.25" text-anchor="middle" textLength="17.08" lengthAdjust="spacingAndGlyphs">17.5</text>
<line x1="559.70" y1="233.4" x2="559.70" y2="236.70000000000002" stroke="#5a5a5a" stroke-width="1.0"/>
<text x="559.70" y="245.80" font-size="8.10" font-family="'Liberation Sans', sans-serif" fill="#2e2e2e" stroke="#2e2e2e" stroke-width="0.25" text-anchor="middle" textLength="17.08" lengthAdjust="spacingAndGlyphs">20.0</text>
<line x1="599.60" y1="233.4" x2="599.60" y2="236.70000000000002" stroke="#5a5a5a" stroke-width="1.0"/>
<text x="599.60" y="245.80" font-size="8.10" font-family="'Liberation Sans', sans-serif" fill="#2e2e2e" stroke="#2e2e2e" stroke-width="0.25" text-anchor="middle" textLength="17.08" lengthAdjust="spacingAndGlyphs">22.5</text>
<line x1="639.50" y1="233.4" x2="639.50" y2="236.70000000000002" stroke="#5a5a5a" stroke-width="1.0"/>
<text x="639.50" y="245.80" font-size="8.10" font-family="'Liberation Sans', sans-serif" fill="#2e2e2e" stroke="#2e2e2e" stroke-width="0.25" text-anchor="middle" textLength="17.08" lengthAdjust="spacingAndGlyphs">25.0</text>
<line x1="679.40" y1="233.4" x2="679.40" y2="236.70000000000002" stroke="#5a5a5a" stroke-width="1.0"/>
<text x="679.40" y="245.80" font-size="8.10" font-family="'Liberation Sans', sans-serif" fill="#2e2e2e" stroke="#2e2e2e" stroke-width="0.25" text-anchor="middle" textLength="17.08" lengthAdjust="spacingAndGlyphs">27.5</text>
<line x1="386.09999999999997" y1="227.00" x2="389.4" y2="227.00" stroke="#5a5a5a" stroke-width="1.0"/>
<text x="383.40" y="229.75" font-size="8.10" font-family="'Liberation Sans', sans-serif" fill="#2e2e2e" stroke="#2e2e2e" stroke-width="0.25" text-anchor="end" textLength="12.20" lengthAdjust="spacingAndGlyphs">7.5</text>
<line x1="386.09999999999997" y1="197.53" x2="389.4" y2="197.53" stroke="#5a5a5a" stroke-width="1.0"/>
<text x="383.40" y="200.28" font-size="8.10" font-family="'Liberation Sans', sans-serif" fill="#2e2e2e" stroke="#2e2e2e" stroke-width="0.25" text-anchor="end" textLength="17.08" lengthAdjust="spacingAndGlyphs">10.0</text>
<line x1="386.09999999999997" y1="168.05" x2="389.4" y2="168.05" stroke="#5a5a5a" stroke-width="1.0"/>
<text x="383.40" y="170.80" font-size="8.10" font-family="'Liberation Sans', sans-serif" fill="#2e2e2e" stroke="#2e2e2e" stroke-width="0.25" text-anchor="end" textLength="17.08" lengthAdjust="spacingAndGlyphs">12.5</text>
<line x1="386.09999999999997" y1="138.57" x2="389.4" y2="138.57" stroke="#5a5a5a" stroke-width="1.0"/>
<text x="383.40" y="141.32" font-size="8.10" font-family="'Liberation Sans', sans-serif" fill="#2e2e2e" stroke="#2e2e2e" stroke-width="0.25" text-anchor="end" textLength="17.08" lengthAdjust="spacingAndGlyphs">15.0</text>
<line x1="386.09999999999997" y1="109.10" x2="389.4" y2="109.10" stroke="#5a5a5a" stroke-width="1.0"/>
<text x="383.40" y="111.85" font-size="8.10" font-family="'Liberation Sans', sans-serif" fill="#2e2e2e" stroke="#2e2e2e" stroke-width="0.25" text-anchor="end" textLength="17.08" lengthAdjust="spacingAndGlyphs">17.5</text>
<line x1="386.09999999999997" y1="79.62" x2="389.4" y2="79.62" stroke="#5a5a5a" stroke-width="1.0"/>
<text x="383.40" y="82.38" font-size="8.10" font-family="'Liberation Sans', sans-serif" fill="#2e2e2e" stroke="#2e2e2e" stroke-width="0.25" text-anchor="end" textLength="17.08" lengthAdjust="spacingAndGlyphs">20.0</text>
<line x1="386.09999999999997" y1="50.15" x2="389.4" y2="50.15" stroke="#5a5a5a" stroke-width="1.0"/>
<text x="383.40" y="52.90" font-size="8.10" font-family="'Liberation Sans', sans-serif" fill="#2e2e2e" stroke="#2e2e2e" stroke-width="0.25" text-anchor="end" textLength="17.08" lengthAdjust="spacingAndGlyphs">22.5</text>
<line x1="386.09999999999997" y1="20.68" x2="389.4" y2="20.68" stroke="#5a5a5a" stroke-width="1.0"/>
<text x="383.40" y="23.43" font-size="8.10" font-family="'Liberation Sans', sans-serif" fill="#2e2e2e" stroke="#2e2e2e" stroke-width="0.25" text-anchor="end" textLength="17.08" lengthAdjust="spacingAndGlyphs">25.0</text>
<text x="471.30" y="8.80" font-size="11.20" font-family="'Liberation Sans', sans-serif" fill="#2e2e2e" stroke="#2e2e2e" stroke-width="0.25" text-anchor="start" textLength="133.70" lengthAdjust="spacingAndGlyphs">Actual vs. Predicted values</text>
<text x="510.30" y="257.00" font-size="8.10" font-family="'Liberation Sans', sans-serif" fill="#2e2e2e" stroke="#2e2e2e" stroke-width="0.25" text-anchor="start" textLength="55.00" lengthAdjust="spacingAndGlyphs">Actual values</text>
<g transform="translate(359.0,158.4) rotate(-90)"><text x="0.00" y="0.00" font-size="8.30" font-family="'Liberation Sans', sans-serif" fill="#2e2e2e" stroke="#2e2e2e" stroke-width="0.25" text-anchor="start" textLength="68.40" lengthAdjust="spacingAndGlyphs">Predicted values</text></g>
<rect x="393.8" y="18.1" width="98.40" height="52.10" rx="1.5" fill="#ffffff" fill-opacity="0.8" stroke="#dcdcdc" stroke-width="0.8"/>
<circle cx="404.8" cy="25.7" r="3.0" fill="#1f77b4"/>
<text x="419.60" y="27.90" font-size="8.10" font-family="'Liberation Sans', sans-serif" fill="#2e2e2e" stroke="#2e2e2e" stroke-width="0.25" text-anchor="start" textLength="25.23" lengthAdjust="spacingAndGlyphs">PM1.0</text>
<text x="447.46" y="27.90" font-size="8.10" font-family="'Liberation Sans', sans-serif" fill="#2e2e2e" stroke="#2e2e2e" stroke-width="0.25" text-anchor="start" textLength="35.51" lengthAdjust="spacingAndGlyphs">(µg/m3 )</text>
<circle cx="404.8" cy="38.17" r="3.0" fill="#ff7f0e"/>
<text x="419.60" y="40.43" font-size="8.10" font-family="'Liberation Sans', sans-serif" fill="#2e2e2e" stroke="#2e2e2e" stroke-width="0.25" text-anchor="start" textLength="25.23" lengthAdjust="spacingAndGlyphs">PM2.5</text>
<text x="447.46" y="40.43" font-size="8.10" font-family="'Liberation Sans', sans-serif" fill="#2e2e2e" stroke="#2e2e2e" stroke-width="0.25" text-anchor="start" textLength="35.51" lengthAdjust="spacingAndGlyphs">(µg/m3 )</text>
<circle cx="404.8" cy="50.63" r="3.0" fill="#2ca02c"/>
<text x="419.60" y="52.97" font-size="8.10" font-family="'Liberation Sans', sans-serif" fill="#2e2e2e" stroke="#2e2e2e" stroke-width="0.25" text-anchor="start" textLength="25.23" lengthAdjust="spacingAndGlyphs">PM4.0</text>
<text x="447.46" y="52.97" font-size="8.10" font-family="'Liberation Sans', sans-serif" fill="#2e2e2e" stroke="#2e2e2e" stroke-width="0.25" text-anchor="start" textLength="35.51" lengthAdjust="spacingAndGlyphs">(µg/m3 )</text>
<circle cx="404.8" cy="63.1" r="3.0" fill="#d62728"/>
<text x="419.60" y="65.50" font-size="8.10" font-family="'Liberation Sans', sans-serif" fill="#2e2e2e" stroke="#2e2e2e" stroke-width="0.25" text-anchor="start" textLength="30.49" lengthAdjust="spacingAndGlyphs">PM10.0</text>
<text x="452.71" y="65.50" font-size="8.10" font-family="'Liberation Sans', sans-serif" fill="#2e2e2e" stroke="#2e2e2e" stroke-width="0.25" text-anchor="start" textLength="35.51" lengthAdjust="spacingAndGlyphs">(µg/m3 )</text>
<text x="388.90" y="281.00" font-size="16.20" font-family="'Liberation Serif', serif" fill="#111111" stroke="#111111" stroke-width="0.25" text-anchor="start" textLength="245.10" lengthAdjust="spacingAndGlyphs">(b) Actual vs GBR Predicted Outputs.</text>
<circle cx="147.3" cy="432.8" r="3.0" fill="#1f77b4"/>
<circle cx="147.3" cy="435.4" r="3.0" fill="#1f77b4"/>
<circle cx="161.5" cy="436.5" r="3.0" fill="#1f77b4"/>
<circle cx="165.3" cy="455.5" r="3.0" fill="#1f77b4"/>
<circle cx="137.5" cy="461.9" r="3.0" fill="#1f77b4"/>
<circle cx="134.3" cy="462.4" r="3.0" fill="#1f77b4"/>
<circle cx="172.4" cy="428.6" r="3.0" fill="#1f77b4"/>
<circle cx="182.4" cy="430.5" r="3.0" fill="#1f77b4"/>
<circle cx="187.2" cy="440.2" r="3.0" fill="#1f77b4"/>
<circle cx="181.4" cy="414.8" r="3.0" fill="#1f77b4"/>
<circle cx="180.8" cy="416.7" r="3.0" fill="#1f77b4"/>
<circle cx="186.9" cy="418.2" r="3.0" fill="#1f77b4"/>
<circle cx="189.8" cy="413.2" r="3.0" fill="#1f77b4"/>
<circle cx="221.3" cy="354.3" r="3.0" fill="#1f77b4"/>
<circle cx="230.6" cy="355.4" r="3.0" fill="#1f77b4"/>
<circle cx="231.8" cy="366.2" r="3.0" fill="#1f77b4"/>
<circle cx="236.6" cy="369.3" r="3.0" fill="#1f77b4"/>
<circle cx="249.3" cy="369.3" r="3.0" fill="#1f77b4"/>
<circle cx="242.4" cy="376.7" r="3.0" fill="#1f77b4"/>
<circle cx="248.2" cy="385.2" r="3.0" fill="#1f77b4"/>
<circle cx="254.0" cy="383.1" r="3.0" fill="#1f77b4"/>
<circle cx="185.1" cy="394.2" r="3.0" fill="#1f77b4"/>
<circle cx="216.5" cy="393.7" r="3.0" fill="#1f77b4"/>
<circle cx="222.8" cy="388.9" r="3.0" fill="#1f77b4"/>
<circle cx="227.6" cy="390.0" r="3.0" fill="#1f77b4"/>
<circle cx="234.8" cy="391.0" r="3.0" fill="#1f77b4"/>
<circle cx="287.8" cy="324.6" r="3.0" fill="#1f77b4"/>
<circle cx="275.8" cy="330.5" r="3.0" fill="#1f77b4"/>
<circle cx="293.4" cy="330.7" r="3.0" fill="#1f77b4"/>
<circle cx="275.4" cy="342.9" r="3.0" fill="#1f77b4"/>
<circle cx="242.1" cy="343.4" r="3.0" fill="#1f77b4"/>
<circle cx="252.9" cy="347.1" r="3.0" fill="#1f77b4"/>
<circle cx="287.4" cy="347.4" r="3.0" fill="#1f77b4"/>
<circle cx="287.1" cy="353.8" r="3.0" fill="#1f77b4"/>
<circle cx="270.1" cy="354.0" r="3.0" fill="#1f77b4"/>
<circle cx="270.1" cy="364.5" r="3.0" fill="#1f77b4"/>
<circle cx="283.4" cy="380.4" r="3.0" fill="#1f77b4"/>
<circle cx="326.5" cy="344.1" r="3.0" fill="#1f77b4"/>
<circle cx="262.7" cy="388.5" r="3.0" fill="#1f77b4"/>
<circle cx="266.9" cy="392.7" r="3.0" fill="#1f77b4"/>
<circle cx="238.0" cy="419.5" r="3.0" fill="#1f77b4"/>
<circle cx="194.6" cy="432.3" r="3.0" fill="#1f77b4"/>
<circle cx="198.5" cy="420.6" r="3.0" fill="#1f77b4"/>
<circle cx="162.8" cy="390.5" r="3.0" fill="#1f77b4"/>
<circle cx="55.3" cy="527.5" r="3.0" fill="#ff7f0e"/>
<circle cx="74.9" cy="503.4" r="3.0" fill="#ff7f0e"/>
<circle cx="91.8" cy="507.6" r="3.0" fill="#ff7f0e"/>
<circle cx="95.6" cy="500.7" r="3.0" fill="#ff7f0e"/>
<circle cx="121.9" cy="465.2" r="3.0" fill="#ff7f0e"/>
<circle cx="115.5" cy="442.0" r="3.0" fill="#ff7f0e"/>
<circle cx="128.8" cy="448.3" r="3.0" fill="#ff7f0e"/>
<circle cx="133.0" cy="448.9" r="3.0" fill="#ff7f0e"/>
<circle cx="140.1" cy="442.8" r="3.0" fill="#ff7f0e"/>
<circle cx="138.0" cy="447.1" r="3.0" fill="#ff7f0e"/>
<circle cx="145.4" cy="451.6" r="3.0" fill="#ff7f0e"/>
<circle cx="156.0" cy="437.0" r="3.0" fill="#ff7f0e"/>
<circle cx="160.7" cy="440.7" r="3.0" fill="#ff7f0e"/>
<circle cx="156.5" cy="446.5" r="3.0" fill="#ff7f0e"/>
<circle cx="164.4" cy="446.0" r="3.0" fill="#ff7f0e"/>
<circle cx="172.4" cy="419.6" r="3.0" fill="#ff7f0e"/>
<circle cx="170.2" cy="432.8" r="3.0" fill="#ff7f0e"/>
<circle cx="172.4" cy="435.4" r="3.0" fill="#ff7f0e"/>
<circle cx="181.9" cy="440.2" r="3.0" fill="#ff7f0e"/>
<circle cx="190.7" cy="407.9" r="3.0" fill="#ff7f0e"/>
<circle cx="241.4" cy="356.6" r="3.0" fill="#ff7f0e"/>
<circle cx="198.8" cy="366.7" r="3.0" fill="#ff7f0e"/>
<circle cx="232.9" cy="361.9" r="3.0" fill="#ff7f0e"/>
<circle cx="222.5" cy="368.3" r="3.0" fill="#ff7f0e"/>
<circle cx="207.3" cy="376.2" r="3.0" fill="#ff7f0e"/>
<circle cx="210.1" cy="373.6" r="3.0" fill="#ff7f0e"/>
<circle cx="185.3" cy="377.8" r="3.0" fill="#ff7f0e"/>
<circle cx="230.2" cy="375.7" r="3.0" fill="#ff7f0e"/>
<circle cx="244.5" cy="382.0" r="3.0" fill="#ff7f0e"/>
<circle cx="204.9" cy="385.7" r="3.0" fill="#ff7f0e"/>
<circle cx="232.9" cy="390.0" r="3.0" fill="#ff7f0e"/>
<circle cx="202.2" cy="406.1" r="3.0" fill="#ff7f0e"/>
<circle cx="210.1" cy="405.8" r="3.0" fill="#ff7f0e"/>
<circle cx="276.2" cy="348.1" r="3.0" fill="#ff7f0e"/>
<circle cx="276.0" cy="353.4" r="3.0" fill="#ff7f0e"/>
<circle cx="256.4" cy="355.6" r="3.0" fill="#ff7f0e"/>
<circle cx="263.8" cy="360.3" r="3.0" fill="#ff7f0e"/>
<circle cx="323.3" cy="350.1" r="3.0" fill="#ff7f0e"/>
<circle cx="330.0" cy="349.4" r="3.0" fill="#ff7f0e"/>
<circle cx="264.1" cy="410.0" r="3.0" fill="#ff7f0e"/>
<circle cx="235.8" cy="436.2" r="3.0" fill="#ff7f0e"/>
<circle cx="211.5" cy="413.2" r="3.0" fill="#ff7f0e"/>
<circle cx="207.8" cy="423.8" r="3.0" fill="#ff7f0e"/>
<circle cx="205.7" cy="406.9" r="3.0" fill="#ff7f0e"/>
<circle cx="224.9" cy="410.4" r="3.0" fill="#ff7f0e"/>
<circle cx="135.1" cy="474.9" r="3.0" fill="#ff7f0e"/>
<circle cx="233.4" cy="437.2" r="3.0" fill="#ff7f0e"/>
<circle cx="104.8" cy="488.3" r="3.0" fill="#2ca02c"/>
<circle cx="107.6" cy="462.8" r="3.0" fill="#2ca02c"/>
<circle cx="129.8" cy="455.0" r="3.0" fill="#2ca02c"/>
<circle cx="105.3" cy="439.9" r="3.0" fill="#2ca02c"/>
<circle cx="127.2" cy="443.6" r="3.0" fill="#2ca02c"/>
<circle cx="133.8" cy="443.0" r="3.0" fill="#2ca02c"/>
<circle cx="149.8" cy="441.8" r="3.0" fill="#2ca02c"/>
<circle cx="164.4" cy="440.5" r="3.0" fill="#2ca02c"/>
<circle cx="168.4" cy="461.4" r="3.0" fill="#2ca02c"/>
<circle cx="154.7" cy="459.2" r="3.0" fill="#2ca02c"/>
<circle cx="143.1" cy="460.8" r="3.0" fill="#2ca02c"/>
<circle cx="135.9" cy="424.1" r="3.0" fill="#2ca02c"/>
<circle cx="163.2" cy="418.8" r="3.0" fill="#2ca02c"/>
<circle cx="174.2" cy="438.1" r="3.0" fill="#2ca02c"/>
<circle cx="187.2" cy="437.0" r="3.0" fill="#2ca02c"/>
<circle cx="176.6" cy="413.8" r="3.0" fill="#2ca02c"/>
<circle cx="190.9" cy="415.9" r="3.0" fill="#2ca02c"/>
<circle cx="193.0" cy="412.7" r="3.0" fill="#2ca02c"/>
<circle cx="185.4" cy="405.5" r="3.0" fill="#2ca02c"/>
<circle cx="178.4" cy="400.8" r="3.0" fill="#2ca02c"/>
<circle cx="193.5" cy="431.2" r="3.0" fill="#2ca02c"/>
<circle cx="199.3" cy="364.0" r="3.0" fill="#2ca02c"/>
<circle cx="215.8" cy="361.9" r="3.0" fill="#2ca02c"/>
<circle cx="227.6" cy="368.8" r="3.0" fill="#2ca02c"/>
<circle cx="231.6" cy="370.4" r="3.0" fill="#2ca02c"/>
<circle cx="253.0" cy="366.2" r="3.0" fill="#2ca02c"/>
<circle cx="210.1" cy="376.2" r="3.0" fill="#2ca02c"/>
<circle cx="232.9" cy="379.7" r="3.0" fill="#2ca02c"/>
<circle cx="241.4" cy="375.1" r="3.0" fill="#2ca02c"/>
<circle cx="247.5" cy="373.6" r="3.0" fill="#2ca02c"/>
<circle cx="220.2" cy="379.9" r="3.0" fill="#2ca02c"/>
<circle cx="223.9" cy="378.3" r="3.0" fill="#2ca02c"/>
<circle cx="222.8" cy="382.6" r="3.0" fill="#2ca02c"/>
<circle cx="225.5" cy="380.4" r="3.0" fill="#2ca02c"/>
<circle cx="251.4" cy="383.6" r="3.0" fill="#2ca02c"/>
<circle cx="201.7" cy="400.0" r="3.0" fill="#2ca02c"/>
<circle cx="219.4" cy="403.7" r="3.0" fill="#2ca02c"/>
<circle cx="268.8" cy="349.5" r="3.0" fill="#2ca02c"/>
<circle cx="281.0" cy="351.9" r="3.0" fill="#2ca02c"/>
<circle cx="269.1" cy="360.3" r="3.0" fill="#2ca02c"/>
<circle cx="283.9" cy="366.9" r="3.0" fill="#2ca02c"/>
<circle cx="321.0" cy="362.8" r="3.0" fill="#2ca02c"/>
<circle cx="196.7" cy="414.8" r="3.0" fill="#2ca02c"/>
<circle cx="202.5" cy="410.6" r="3.0" fill="#2ca02c"/>
<circle cx="201.4" cy="413.8" r="3.0" fill="#2ca02c"/>
<circle cx="202.5" cy="416.9" r="3.0" fill="#2ca02c"/>
<circle cx="207.8" cy="413.8" r="3.0" fill="#2ca02c"/>
<circle cx="207.8" cy="419.0" r="3.0" fill="#2ca02c"/>
<circle cx="122.9" cy="493.1" r="3.0" fill="#2ca02c"/>
<circle cx="82.0" cy="470.0" r="3.0" fill="#d62728"/>
<circle cx="108.1" cy="470.9" r="3.0" fill="#d62728"/>
<circle cx="112.0" cy="469.5" r="3.0" fill="#d62728"/>
<circle cx="115.5" cy="455.2" r="3.0" fill="#d62728"/>
<circle cx="122.2" cy="449.7" r="3.0" fill="#d62728"/>
<circle cx="126.6" cy="456.3" r="3.0" fill="#d62728"/>
<circle cx="163.4" cy="453.9" r="3.0" fill="#d62728"/>
<circle cx="165.7" cy="459.2" r="3.0" fill="#d62728"/>
<circle cx="137.8" cy="425.4" r="3.0" fill="#d62728"/>
<circle cx="164.4" cy="429.1" r="3.0" fill="#d62728"/>
<circle cx="168.7" cy="428.6" r="3.0" fill="#d62728"/>
<circle cx="171.0" cy="427.3" r="3.0" fill="#d62728"/>
<circle cx="179.8" cy="428.6" r="3.0" fill="#d62728"/>
<circle cx="181.6" cy="421.2" r="3.0" fill="#d62728"/>
<circle cx="180.5" cy="438.6" r="3.0" fill="#d62728"/>
<circle cx="214.1" cy="345.5" r="3.0" fill="#d62728"/>
<circle cx="235.9" cy="350.8" r="3.0" fill="#d62728"/>
<circle cx="245.6" cy="351.1" r="3.0" fill="#d62728"/>
<circle cx="247.2" cy="357.2" r="3.0" fill="#d62728"/>
<circle cx="250.3" cy="357.9" r="3.0" fill="#d62728"/>
<circle cx="206.4" cy="365.6" r="3.0" fill="#d62728"/>
<circle cx="225.5" cy="364.0" r="3.0" fill="#d62728"/>
<circle cx="202.2" cy="373.3" r="3.0" fill="#d62728"/>
<circle cx="181.1" cy="377.8" r="3.0" fill="#d62728"/>
<circle cx="181.9" cy="382.6" r="3.0" fill="#d62728"/>
<circle cx="181.1" cy="389.4" r="3.0" fill="#d62728"/>
<circle cx="195.0" cy="393.1" r="3.0" fill="#d62728"/>
<circle cx="213.3" cy="401.6" r="3.0" fill="#d62728"/>
<circle cx="227.4" cy="397.9" r="3.0" fill="#d62728"/>
<circle cx="233.9" cy="401.6" r="3.0" fill="#d62728"/>
<circle cx="258.0" cy="324.9" r="3.0" fill="#d62728"/>
<circle cx="281.3" cy="331.2" r="3.0" fill="#d62728"/>
<circle cx="285.7" cy="329.4" r="3.0" fill="#d62728"/>
<circle cx="287.1" cy="333.9" r="3.0" fill="#d62728"/>
<circle cx="270.1" cy="339.2" r="3.0" fill="#d62728"/>
<circle cx="259.6" cy="348.7" r="3.0" fill="#d62728"/>
<circle cx="264.5" cy="346.0" r="3.0" fill="#d62728"/>
<circle cx="275.1" cy="351.9" r="3.0" fill="#d62728"/>
<circle cx="298.7" cy="353.1" r="3.0" fill="#d62728"/>
<circle cx="265.9" cy="358.0" r="3.0" fill="#d62728"/>
<circle cx="276.2" cy="365.8" r="3.0" fill="#d62728"/>
<circle cx="218.9" cy="430.7" r="3.0" fill="#d62728"/>
<circle cx="207.8" cy="435.1" r="3.0" fill="#d62728"/>
<circle cx="204.1" cy="430.1" r="3.0" fill="#d62728"/>
<circle cx="198.1" cy="426.7" r="3.0" fill="#d62728"/>
<circle cx="169.2" cy="384.7" r="3.0" fill="#d62728"/>
<circle cx="175.2" cy="378.9" r="3.0" fill="#d62728"/>
<circle cx="217.2" cy="431.8" r="3.0" fill="#d62728"/>
<circle cx="220.3" cy="429.4" r="3.0" fill="#d62728"/>
<rect x="41.0" y="314.3" width="303.60" height="223.10" fill="none" stroke="#5a5a5a" stroke-width="1.0"/>
<line x1="81.20" y1="537.4" x2="81.20" y2="540.6999999999999" stroke="#5a5a5a" stroke-width="1.0"/>
<text x="81.20" y="550.20" font-size="8.40" font-family="'Liberation Sans', sans-serif" fill="#2e2e2e" stroke="#2e2e2e" stroke-width="0.25" text-anchor="middle" textLength="4.85" lengthAdjust="spacingAndGlyphs">5</text>
<line x1="137.65" y1="537.4" x2="137.65" y2="540.6999999999999" stroke="#5a5a5a" stroke-width="1.0"/>
<text x="137.65" y="550.20" font-size="8.40" font-family="'Liberation Sans', sans-serif" fill="#2e2e2e" stroke="#2e2e2e" stroke-width="0.25" text-anchor="middle" textLength="9.70" lengthAdjust="spacingAndGlyphs">10</text>
<line x1="194.10" y1="537.4" x2="194.10" y2="540.6999999999999" stroke="#5a5a5a" stroke-width="1.0"/>
<text x="194.10" y="550.20" font-size="8.40" font-family="'Liberation Sans', sans-serif" fill="#2e2e2e" stroke="#2e2e2e" stroke-width="0.25" text-anchor="middle" textLength="9.70" lengthAdjust="spacingAndGlyphs">15</text>
<line x1="250.55" y1="537.4" x2="250.55" y2="540.6999999999999" stroke="#5a5a5a" stroke-width="1.0"/>
<text x="250.55" y="550.20" font-size="8.40" font-family="'Liberation Sans', sans-serif" fill="#2e2e2e" stroke="#2e2e2e" stroke-width="0.25" text-anchor="middle" textLength="9.70" lengthAdjust="spacingAndGlyphs">20</text>
<line x1="307.00" y1="537.4" x2="307.00" y2="540.6999999999999" stroke="#5a5a5a" stroke-width="1.0"/>
<text x="307.00" y="550.20" font-size="8.40" font-family="'Liberation Sans', sans-serif" fill="#2e2e2e" stroke="#2e2e2e" stroke-width="0.25" text-anchor="middle" textLength="9.70" lengthAdjust="spacingAndGlyphs">25</text>
<line x1="37.7" y1="537.00" x2="41.0" y2="537.00" stroke="#5a5a5a" stroke-width="1.0"/>
<text x="34.80" y="539.90" font-size="8.40" font-family="'Liberation Sans', sans-serif" fill="#2e2e2e" stroke="#2e2e2e" stroke-width="0.25" text-anchor="end" textLength="12.12" lengthAdjust="spacingAndGlyphs">2.5</text>
<line x1="37.7" y1="511.20" x2="41.0" y2="511.20" stroke="#5a5a5a" stroke-width="1.0"/>
<text x="34.80" y="514.10" font-size="8.40" font-family="'Liberation Sans', sans-serif" fill="#2e2e2e" stroke="#2e2e2e" stroke-width="0.25" text-anchor="end" textLength="12.12" lengthAdjust="spacingAndGlyphs">5.0</text>
<line x1="37.7" y1="485.40" x2="41.0" y2="485.40" stroke="#5a5a5a" stroke-width="1.0"/>
<text x="34.80" y="488.30" font-size="8.40" font-family="'Liberation Sans', sans-serif" fill="#2e2e2e" stroke="#2e2e2e" stroke-width="0.25" text-anchor="end" textLength="12.12" lengthAdjust="spacingAndGlyphs">7.5</text>
<line x1="37.7" y1="459.60" x2="41.0" y2="459.60" stroke="#5a5a5a" stroke-width="1.0"/>
<text x="34.80" y="462.50" font-size="8.40" font-family="'Liberation Sans', sans-serif" fill="#2e2e2e" stroke="#2e2e2e" stroke-width="0.25" text-anchor="end" textLength="16.97" lengthAdjust="spacingAndGlyphs">10.0</text>
<line x1="37.7" y1="433.80" x2="41.0" y2="433.80" stroke="#5a5a5a" stroke-width="1.0"/>
<text x="34.80" y="436.70" font-size="8.40" font-family="'Liberation Sans', sans-serif" fill="#2e2e2e" stroke="#2e2e2e" stroke-width="0.25" text-anchor="end" textLength="16.97" lengthAdjust="spacingAndGlyphs">12.5</text>
<line x1="37.7" y1="408.00" x2="41.0" y2="408.00" stroke="#5a5a5a" stroke-width="1.0"/>
<text x="34.80" y="410.90" font-size="8.40" font-family="'Liberation Sans', sans-serif" fill="#2e2e2e" stroke="#2e2e2e" stroke-width="0.25" text-anchor="end" textLength="16.97" lengthAdjust="spacingAndGlyphs">15.0</text>
<line x1="37.7" y1="382.20" x2="41.0" y2="382.20" stroke="#5a5a5a" stroke-width="1.0"/>
<text x="34.80" y="385.10" font-size="8.40" font-family="'Liberation Sans', sans-serif" fill="#2e2e2e" stroke="#2e2e2e" stroke-width="0.25" text-anchor="end" textLength="16.97" lengthAdjust="spacingAndGlyphs">17.5</text>
<line x1="37.7" y1="356.40" x2="41.0" y2="356.40" stroke="#5a5a5a" stroke-width="1.0"/>
<text x="34.80" y="359.30" font-size="8.40" font-family="'Liberation Sans', sans-serif" fill="#2e2e2e" stroke="#2e2e2e" stroke-width="0.25" text-anchor="end" textLength="16.97" lengthAdjust="spacingAndGlyphs">20.0</text>
<line x1="37.7" y1="330.60" x2="41.0" y2="330.60" stroke="#5a5a5a" stroke-width="1.0"/>
<text x="34.80" y="333.50" font-size="8.40" font-family="'Liberation Sans', sans-serif" fill="#2e2e2e" stroke="#2e2e2e" stroke-width="0.25" text-anchor="end" textLength="16.97" lengthAdjust="spacingAndGlyphs">22.5</text>
<text x="124.10" y="309.80" font-size="11.60" font-family="'Liberation Sans', sans-serif" fill="#2e2e2e" stroke="#2e2e2e" stroke-width="0.25" text-anchor="start" textLength="136.30" lengthAdjust="spacingAndGlyphs">Actual vs. Predicted values</text>
<text x="163.50" y="562.00" font-size="8.40" font-family="'Liberation Sans', sans-serif" fill="#2e2e2e" stroke="#2e2e2e" stroke-width="0.25" text-anchor="start" textLength="56.60" lengthAdjust="spacingAndGlyphs">Actual values</text>
<g transform="translate(11.0,460.7) rotate(-90)"><text x="0.00" y="0.00" font-size="8.40" font-family="'Liberation Sans', sans-serif" fill="#2e2e2e" stroke="#2e2e2e" stroke-width="0.25" text-anchor="start" textLength="68.70" lengthAdjust="spacingAndGlyphs">Predicted values</text></g>
<rect x="45.6" y="318.5" width="100.70" height="53.30" rx="1.5" fill="#ffffff" fill-opacity="0.8" stroke="#dcdcdc" stroke-width="0.8"/>
<circle cx="56.9" cy="326.6" r="3.0" fill="#1f77b4"/>
<text x="72.20" y="329.00" font-size="8.30" font-family="'Liberation Sans', sans-serif" fill="#2e2e2e" stroke="#2e2e2e" stroke-width="0.25" text-anchor="start" textLength="25.67" lengthAdjust="spacingAndGlyphs">PM1.0</text>
<text x="100.54" y="329.00" font-size="8.30" font-family="'Liberation Sans', sans-serif" fill="#2e2e2e" stroke="#2e2e2e" stroke-width="0.25" text-anchor="start" textLength="36.12" lengthAdjust="spacingAndGlyphs">(µg/m3 )</text>
<circle cx="56.9" cy="339.2" r="3.0" fill="#ff7f0e"/>
<text x="72.20" y="341.67" font-size="8.30" font-family="'Liberation Sans', sans-serif" fill="#2e2e2e" stroke="#2e2e2e" stroke-width="0.25" text-anchor="start" textLength="25.67" lengthAdjust="spacingAndGlyphs">PM2.5</text>
<text x="100.54" y="341.67" font-size="8.30" font-family="'Liberation Sans', sans-serif" fill="#2e2e2e" stroke="#2e2e2e" stroke-width="0.25" text-anchor="start" textLength="36.12" lengthAdjust="spacingAndGlyphs">(µg/m3 )</text>
<circle cx="56.9" cy="351.8" r="3.0" fill="#2ca02c"/>
<text x="72.20" y="354.33" font-size="8.30" font-family="'Liberation Sans', sans-serif" fill="#2e2e2e" stroke="#2e2e2e" stroke-width="0.25" text-anchor="start" textLength="25.67" lengthAdjust="spacingAndGlyphs">PM4.0</text>
<text x="100.54" y="354.33" font-size="8.30" font-family="'Liberation Sans', sans-serif" fill="#2e2e2e" stroke="#2e2e2e" stroke-width="0.25" text-anchor="start" textLength="36.12" lengthAdjust="spacingAndGlyphs">(µg/m3 )</text>
<circle cx="56.9" cy="364.4" r="3.0" fill="#d62728"/>
<text x="72.20" y="367.00" font-size="8.30" font-family="'Liberation Sans', sans-serif" fill="#2e2e2e" stroke="#2e2e2e" stroke-width="0.25" text-anchor="start" textLength="31.01" lengthAdjust="spacingAndGlyphs">PM10.0</text>
<text x="105.89" y="367.00" font-size="8.30" font-family="'Liberation Sans', sans-serif" fill="#2e2e2e" stroke="#2e2e2e" stroke-width="0.25" text-anchor="start" textLength="36.12" lengthAdjust="spacingAndGlyphs">(µg/m3 )</text>
<text x="55.60" y="586.70" font-size="16.20" font-family="'Liberation Serif', serif" fill="#111111" stroke="#111111" stroke-width="0.25" text-anchor="start" textLength="233.10" lengthAdjust="spacingAndGlyphs">(c) Actual vs LR Predicted Outputs.</text>
<circle cx="493.4" cy="435.9" r="3.0" fill="#1f77b4"/>
<circle cx="497.6" cy="457.9" r="3.0" fill="#1f77b4"/>
<circle cx="506.6" cy="447.7" r="3.0" fill="#1f77b4"/>
<circle cx="524.0" cy="448.0" r="3.0" fill="#1f77b4"/>
<circle cx="521.1" cy="434.8" r="3.0" fill="#1f77b4"/>
<circle cx="521.9" cy="441.7" r="3.0" fill="#1f77b4"/>
<circle cx="530.9" cy="440.5" r="3.0" fill="#1f77b4"/>
<circle cx="544.7" cy="435.6" r="3.0" fill="#1f77b4"/>
<circle cx="547.3" cy="442.1" r="3.0" fill="#1f77b4"/>
<circle cx="555.2" cy="433.4" r="3.0" fill="#1f77b4"/>
<circle cx="541.5" cy="421.0" r="3.0" fill="#1f77b4"/>
<circle cx="547.3" cy="416.5" r="3.0" fill="#1f77b4"/>
<circle cx="542.0" cy="407.7" r="3.0" fill="#1f77b4"/>
<circle cx="551.0" cy="401.7" r="3.0" fill="#1f77b4"/>
<circle cx="576.9" cy="389.8" r="3.0" fill="#1f77b4"/>
<circle cx="553.9" cy="414.4" r="3.0" fill="#1f77b4"/>
<circle cx="558.9" cy="415.7" r="3.0" fill="#1f77b4"/>
<circle cx="582.3" cy="382.2" r="3.0" fill="#1f77b4"/>
<circle cx="588.6" cy="373.3" r="3.0" fill="#1f77b4"/>
<circle cx="595.7" cy="379.9" r="3.0" fill="#1f77b4"/>
<circle cx="597.8" cy="378.9" r="3.0" fill="#1f77b4"/>
<circle cx="609.5" cy="382.0" r="3.0" fill="#1f77b4"/>
<circle cx="615.5" cy="375.5" r="3.0" fill="#1f77b4"/>
<circle cx="603.4" cy="371.4" r="3.0" fill="#1f77b4"/>
<circle cx="603.1" cy="365.6" r="3.0" fill="#1f77b4"/>
<circle cx="614.8" cy="358.8" r="3.0" fill="#1f77b4"/>
<circle cx="624.3" cy="366.2" r="3.0" fill="#1f77b4"/>
<circle cx="629.0" cy="391.0" r="3.0" fill="#1f77b4"/>
<circle cx="689.0" cy="326.5" r="3.0" fill="#1f77b4"/>
<circle cx="655.7" cy="333.7" r="3.0" fill="#1f77b4"/>
<circle cx="650.4" cy="336.0" r="3.0" fill="#1f77b4"/>
<circle cx="649.4" cy="339.7" r="3.0" fill="#1f77b4"/>
<circle cx="637.7" cy="337.6" r="3.0" fill="#1f77b4"/>
<circle cx="636.2" cy="345.0" r="3.0" fill="#1f77b4"/>
<circle cx="631.9" cy="347.6" r="3.0" fill="#1f77b4"/>
<circle cx="631.9" cy="353.8" r="3.0" fill="#1f77b4"/>
<circle cx="645.7" cy="365.1" r="3.0" fill="#1f77b4"/>
<circle cx="599.1" cy="414.0" r="3.0" fill="#1f77b4"/>
<circle cx="412.1" cy="529.8" r="3.0" fill="#ff7f0e"/>
<circle cx="432.7" cy="503.3" r="3.0" fill="#ff7f0e"/>
<circle cx="450.2" cy="503.3" r="3.0" fill="#ff7f0e"/>
<circle cx="453.3" cy="488.8" r="3.0" fill="#ff7f0e"/>
<circle cx="474.3" cy="461.3" r="3.0" fill="#ff7f0e"/>
<circle cx="498.7" cy="448.0" r="3.0" fill="#ff7f0e"/>
<circle cx="492.8" cy="455.4" r="3.0" fill="#ff7f0e"/>
<circle cx="490.2" cy="461.8" r="3.0" fill="#ff7f0e"/>
<circle cx="505.0" cy="455.4" r="3.0" fill="#ff7f0e"/>
<circle cx="516.4" cy="453.3" r="3.0" fill="#ff7f0e"/>
<circle cx="520.3" cy="454.9" r="3.0" fill="#ff7f0e"/>
<circle cx="523.5" cy="459.7" r="3.0" fill="#ff7f0e"/>
<circle cx="515.4" cy="434.6" r="3.0" fill="#ff7f0e"/>
<circle cx="494.2" cy="469.5" r="3.0" fill="#ff7f0e"/>
<circle cx="480.1" cy="473.9" r="3.0" fill="#ff7f0e"/>
<circle cx="530.9" cy="431.5" r="3.0" fill="#ff7f0e"/>
<circle cx="532.5" cy="429.4" r="3.0" fill="#ff7f0e"/>
<circle cx="551.0" cy="432.1" r="3.0" fill="#ff7f0e"/>
<circle cx="533.0" cy="416.7" r="3.0" fill="#ff7f0e"/>
<circle cx="545.0" cy="411.2" r="3.0" fill="#ff7f0e"/>
<circle cx="559.2" cy="393.3" r="3.0" fill="#ff7f0e"/>
<circle cx="571.1" cy="394.0" r="3.0" fill="#ff7f0e"/>
<circle cx="569.5" cy="402.5" r="3.0" fill="#ff7f0e"/>
<circle cx="568.5" cy="416.7" r="3.0" fill="#ff7f0e"/>
<circle cx="583.6" cy="377.8" r="3.0" fill="#ff7f0e"/>
<circle cx="587.8" cy="384.1" r="3.0" fill="#ff7f0e"/>
<circle cx="589.4" cy="390.5" r="3.0" fill="#ff7f0e"/>
<circle cx="593.6" cy="386.8" r="3.0" fill="#ff7f0e"/>
<circle cx="605.2" cy="377.8" r="3.0" fill="#ff7f0e"/>
<circle cx="602.8" cy="362.5" r="3.0" fill="#ff7f0e"/>
<circle cx="617.2" cy="366.2" r="3.0" fill="#ff7f0e"/>
<circle cx="618.3" cy="352.9" r="3.0" fill="#ff7f0e"/>
<circle cx="625.7" cy="368.5" r="3.0" fill="#ff7f0e"/>
<circle cx="625.7" cy="392.1" r="3.0" fill="#ff7f0e"/>
<circle cx="686.7" cy="322.8" r="3.0" fill="#ff7f0e"/>
<circle cx="637.7" cy="347.6" r="3.0" fill="#ff7f0e"/>
<circle cx="693.3" cy="326.1" r="3.0" fill="#ff7f0e"/>
<circle cx="597.3" cy="422.0" r="3.0" fill="#ff7f0e"/>
<circle cx="595.9" cy="427.3" r="3.0" fill="#ff7f0e"/>
<circle cx="570.5" cy="417.2" r="3.0" fill="#ff7f0e"/>
<circle cx="463.2" cy="495.4" r="3.0" fill="#2ca02c"/>
<circle cx="466.4" cy="481.8" r="3.0" fill="#2ca02c"/>
<circle cx="463.8" cy="435.0" r="3.0" fill="#2ca02c"/>
<circle cx="495.7" cy="433.8" r="3.0" fill="#2ca02c"/>
<circle cx="493.2" cy="452.3" r="3.0" fill="#2ca02c"/>
<circle cx="486.5" cy="456.5" r="3.0" fill="#2ca02c"/>
<circle cx="489.1" cy="460.4" r="3.0" fill="#2ca02c"/>
<circle cx="502.4" cy="451.2" r="3.0" fill="#2ca02c"/>
<circle cx="509.2" cy="449.8" r="3.0" fill="#2ca02c"/>
<circle cx="513.5" cy="456.0" r="3.0" fill="#2ca02c"/>
<circle cx="523.0" cy="453.9" r="3.0" fill="#2ca02c"/>
<circle cx="523.0" cy="435.9" r="3.0" fill="#2ca02c"/>
<circle cx="481.7" cy="473.9" r="3.0" fill="#2ca02c"/>
<circle cx="547.3" cy="439.5" r="3.0" fill="#2ca02c"/>
<circle cx="536.2" cy="418.9" r="3.0" fill="#2ca02c"/>
<circle cx="545.4" cy="423.3" r="3.0" fill="#2ca02c"/>
<circle cx="551.5" cy="395.6" r="3.0" fill="#2ca02c"/>
<circle cx="560.0" cy="386.3" r="3.0" fill="#2ca02c"/>
<circle cx="568.5" cy="389.8" r="3.0" fill="#2ca02c"/>
<circle cx="571.1" cy="390.8" r="3.0" fill="#2ca02c"/>
<circle cx="576.7" cy="385.0" r="3.0" fill="#2ca02c"/>
<circle cx="553.7" cy="405.6" r="3.0" fill="#2ca02c"/>
<circle cx="557.4" cy="401.9" r="3.0" fill="#2ca02c"/>
<circle cx="562.7" cy="398.8" r="3.0" fill="#2ca02c"/>
<circle cx="562.1" cy="415.1" r="3.0" fill="#2ca02c"/>
<circle cx="568.5" cy="410.4" r="3.0" fill="#2ca02c"/>
<circle cx="579.6" cy="407.7" r="3.0" fill="#2ca02c"/>
<circle cx="592.9" cy="376.2" r="3.0" fill="#2ca02c"/>
<circle cx="589.4" cy="381.5" r="3.0" fill="#2ca02c"/>
<circle cx="584.1" cy="387.3" r="3.0" fill="#2ca02c"/>
<circle cx="580.9" cy="391.3" r="3.0" fill="#2ca02c"/>
<circle cx="585.7" cy="394.7" r="3.0" fill="#2ca02c"/>
<circle cx="592.9" cy="393.7" r="3.0" fill="#2ca02c"/>
<circle cx="602.8" cy="383.3" r="3.0" fill="#2ca02c"/>
<circle cx="612.1" cy="379.7" r="3.0" fill="#2ca02c"/>
<circle cx="607.9" cy="372.0" r="3.0" fill="#2ca02c"/>
<circle cx="614.8" cy="362.5" r="3.0" fill="#2ca02c"/>
<circle cx="629.6" cy="370.4" r="3.0" fill="#2ca02c"/>
<circle cx="629.6" cy="378.9" r="3.0" fill="#2ca02c"/>
<circle cx="684.0" cy="324.9" r="3.0" fill="#2ca02c"/>
<circle cx="643.6" cy="357.7" r="3.0" fill="#2ca02c"/>
<circle cx="646.5" cy="356.1" r="3.0" fill="#2ca02c"/>
<circle cx="528.1" cy="466.4" r="3.0" fill="#2ca02c"/>
<circle cx="534.1" cy="459.0" r="3.0" fill="#2ca02c"/>
<circle cx="440.1" cy="484.3" r="3.0" fill="#d62728"/>
<circle cx="470.6" cy="482.5" r="3.0" fill="#d62728"/>
<circle cx="466.9" cy="475.1" r="3.0" fill="#d62728"/>
<circle cx="480.7" cy="446.7" r="3.0" fill="#d62728"/>
<circle cx="474.3" cy="455.4" r="3.0" fill="#d62728"/>
<circle cx="496.5" cy="447.0" r="3.0" fill="#d62728"/>
<circle cx="523.5" cy="441.2" r="3.0" fill="#d62728"/>
<circle cx="524.0" cy="430.6" r="3.0" fill="#d62728"/>
<circle cx="485.8" cy="480.1" r="3.0" fill="#d62728"/>
<circle cx="524.6" cy="480.8" r="3.0" fill="#d62728"/>
<circle cx="539.9" cy="430.0" r="3.0" fill="#d62728"/>
<circle cx="542.0" cy="431.0" r="3.0" fill="#d62728"/>
<circle cx="529.1" cy="414.6" r="3.0" fill="#d62728"/>
<circle cx="530.4" cy="421.0" r="3.0" fill="#d62728"/>
<circle cx="540.4" cy="416.7" r="3.0" fill="#d62728"/>
<circle cx="540.4" cy="418.9" r="3.0" fill="#d62728"/>
<circle cx="539.4" cy="424.7" r="3.0" fill="#d62728"/>
<circle cx="535.5" cy="405.6" r="3.0" fill="#d62728"/>
<circle cx="541.8" cy="404.0" r="3.0" fill="#d62728"/>
<circle cx="567.4" cy="398.2" r="3.0" fill="#d62728"/>
<circle cx="574.3" cy="399.3" r="3.0" fill="#d62728"/>
<circle cx="555.6" cy="410.9" r="3.0" fill="#d62728"/>
<circle cx="558.9" cy="410.4" r="3.0" fill="#d62728"/>
<circle cx="563.2" cy="409.9" r="3.0" fill="#d62728"/>
<circle cx="568.5" cy="407.2" r="3.0" fill="#d62728"/>
<circle cx="579.0" cy="422.0" r="3.0" fill="#d62728"/>
<circle cx="579.0" cy="402.5" r="3.0" fill="#d62728"/>
<circle cx="527.7" cy="446.9" r="3.0" fill="#d62728"/>
<circle cx="574.9" cy="368.1" r="3.0" fill="#d62728"/>
<circle cx="588.9" cy="401.1" r="3.0" fill="#d62728"/>
<circle cx="565.0" cy="406.9" r="3.0" fill="#d62728"/>
<circle cx="586.7" cy="379.1" r="3.0" fill="#d62728"/>
<circle cx="595.2" cy="393.9" r="3.0" fill="#d62728"/>
<circle cx="611.1" cy="371.2" r="3.0" fill="#d62728"/>
<circle cx="607.0" cy="366.2" r="3.0" fill="#d62728"/>
<circle cx="597.3" cy="366.7" r="3.0" fill="#d62728"/>
<circle cx="608.9" cy="358.2" r="3.0" fill="#d62728"/>
<circle cx="619.7" cy="354.5" r="3.0" fill="#d62728"/>
<circle cx="626.9" cy="354.0" r="3.0" fill="#d62728"/>
<circle cx="628.0" cy="357.7" r="3.0" fill="#d62728"/>
<circle cx="626.4" cy="346.1" r="3.0" fill="#d62728"/>
<circle cx="675.1" cy="339.7" r="3.0" fill="#d62728"/>
<circle cx="661.3" cy="335.5" r="3.0" fill="#d62728"/>
<circle cx="648.6" cy="331.5" r="3.0" fill="#d62728"/>
<circle cx="649.1" cy="343.9" r="3.0" fill="#d62728"/>
<circle cx="643.3" cy="340.7" r="3.0" fill="#d62728"/>
<circle cx="637.2" cy="347.1" r="3.0" fill="#d62728"/>
<circle cx="631.4" cy="357.7" r="3.0" fill="#d62728"/>
<circle cx="621.9" cy="356.6" r="3.0" fill="#d62728"/>
<circle cx="637.7" cy="359.5" r="3.0" fill="#d62728"/>
<rect x="398.5" y="312.3" width="308.80" height="228.00" fill="none" stroke="#5a5a5a" stroke-width="1.0"/>
<line x1="438.80" y1="540.3" x2="438.80" y2="543.5999999999999" stroke="#5a5a5a" stroke-width="1.0"/>
<text x="438.80" y="552.80" font-size="8.60" font-family="'Liberation Sans', sans-serif" fill="#2e2e2e" stroke="#2e2e2e" stroke-width="0.25" text-anchor="middle" textLength="4.60" lengthAdjust="spacingAndGlyphs">5</text>
<line x1="496.68" y1="540.3" x2="496.68" y2="543.5999999999999" stroke="#5a5a5a" stroke-width="1.0"/>
<text x="496.68" y="552.80" font-size="8.60" font-family="'Liberation Sans', sans-serif" fill="#2e2e2e" stroke="#2e2e2e" stroke-width="0.25" text-anchor="middle" textLength="9.20" lengthAdjust="spacingAndGlyphs">10</text>
<line x1="554.55" y1="540.3" x2="554.55" y2="543.5999999999999" stroke="#5a5a5a" stroke-width="1.0"/>
<text x="554.55" y="552.80" font-size="8.60" font-family="'Liberation Sans', sans-serif" fill="#2e2e2e" stroke="#2e2e2e" stroke-width="0.25" text-anchor="middle" textLength="9.20" lengthAdjust="spacingAndGlyphs">15</text>
<line x1="612.42" y1="540.3" x2="612.42" y2="543.5999999999999" stroke="#5a5a5a" stroke-width="1.0"/>
<text x="612.42" y="552.80" font-size="8.60" font-family="'Liberation Sans', sans-serif" fill="#2e2e2e" stroke="#2e2e2e" stroke-width="0.25" text-anchor="middle" textLength="9.20" lengthAdjust="spacingAndGlyphs">20</text>
<line x1="670.30" y1="540.3" x2="670.30" y2="543.5999999999999" stroke="#5a5a5a" stroke-width="1.0"/>
<text x="670.30" y="552.80" font-size="8.60" font-family="'Liberation Sans', sans-serif" fill="#2e2e2e" stroke="#2e2e2e" stroke-width="0.25" text-anchor="middle" textLength="9.20" lengthAdjust="spacingAndGlyphs">25</text>
<line x1="395.2" y1="506.70" x2="398.5" y2="506.70" stroke="#5a5a5a" stroke-width="1.0"/>
<text x="392.60" y="509.65" font-size="8.60" font-family="'Liberation Sans', sans-serif" fill="#2e2e2e" stroke="#2e2e2e" stroke-width="0.25" text-anchor="end" textLength="4.60" lengthAdjust="spacingAndGlyphs">5</text>
<line x1="395.2" y1="460.15" x2="398.5" y2="460.15" stroke="#5a5a5a" stroke-width="1.0"/>
<text x="392.60" y="463.10" font-size="8.60" font-family="'Liberation Sans', sans-serif" fill="#2e2e2e" stroke="#2e2e2e" stroke-width="0.25" text-anchor="end" textLength="9.20" lengthAdjust="spacingAndGlyphs">10</text>
<line x1="395.2" y1="413.60" x2="398.5" y2="413.60" stroke="#5a5a5a" stroke-width="1.0"/>
<text x="392.60" y="416.55" font-size="8.60" font-family="'Liberation Sans', sans-serif" fill="#2e2e2e" stroke="#2e2e2e" stroke-width="0.25" text-anchor="end" textLength="9.20" lengthAdjust="spacingAndGlyphs">15</text>
<line x1="395.2" y1="367.05" x2="398.5" y2="367.05" stroke="#5a5a5a" stroke-width="1.0"/>
<text x="392.60" y="370.00" font-size="8.60" font-family="'Liberation Sans', sans-serif" fill="#2e2e2e" stroke="#2e2e2e" stroke-width="0.25" text-anchor="end" textLength="9.20" lengthAdjust="spacingAndGlyphs">20</text>
<line x1="395.2" y1="320.50" x2="398.5" y2="320.50" stroke="#5a5a5a" stroke-width="1.0"/>
<text x="392.60" y="323.45" font-size="8.60" font-family="'Liberation Sans', sans-serif" fill="#2e2e2e" stroke="#2e2e2e" stroke-width="0.25" text-anchor="end" textLength="9.20" lengthAdjust="spacingAndGlyphs">25</text>
<text x="483.40" y="307.80" font-size="11.80" font-family="'Liberation Sans', sans-serif" fill="#2e2e2e" stroke="#2e2e2e" stroke-width="0.25" text-anchor="start" textLength="138.30" lengthAdjust="spacingAndGlyphs">Actual vs. Predicted values</text>
<text x="523.80" y="565.00" font-size="8.40" font-family="'Liberation Sans', sans-serif" fill="#2e2e2e" stroke="#2e2e2e" stroke-width="0.25" text-anchor="start" textLength="57.40" lengthAdjust="spacingAndGlyphs">Actual values</text>
<g transform="translate(376.4,462.4) rotate(-90)"><text x="0.00" y="0.00" font-size="8.50" font-family="'Liberation Sans', sans-serif" fill="#2e2e2e" stroke="#2e2e2e" stroke-width="0.25" text-anchor="start" textLength="70.80" lengthAdjust="spacingAndGlyphs">Predicted values</text></g>
<rect x="402.7" y="317.1" width="102.80" height="53.80" rx="1.5" fill="#ffffff" fill-opacity="0.8" stroke="#dcdcdc" stroke-width="0.8"/>
<circle cx="414.6" cy="324.9" r="3.0" fill="#1f77b4"/>
<text x="430.20" y="327.00" font-size="8.40" font-family="'Liberation Sans', sans-serif" fill="#2e2e2e" stroke="#2e2e2e" stroke-width="0.25" text-anchor="start" textLength="26.07" lengthAdjust="spacingAndGlyphs">PM1.0</text>
<text x="458.98" y="327.00" font-size="8.40" font-family="'Liberation Sans', sans-serif" fill="#2e2e2e" stroke="#2e2e2e" stroke-width="0.25" text-anchor="start" textLength="36.68" lengthAdjust="spacingAndGlyphs">(µg/m3 )</text>
<circle cx="414.6" cy="337.87" r="3.0" fill="#ff7f0e"/>
<text x="430.20" y="339.83" font-size="8.40" font-family="'Liberation Sans', sans-serif" fill="#2e2e2e" stroke="#2e2e2e" stroke-width="0.25" text-anchor="start" textLength="26.07" lengthAdjust="spacingAndGlyphs">PM2.5</text>
<text x="458.98" y="339.83" font-size="8.40" font-family="'Liberation Sans', sans-serif" fill="#2e2e2e" stroke="#2e2e2e" stroke-width="0.25" text-anchor="start" textLength="36.68" lengthAdjust="spacingAndGlyphs">(µg/m3 )</text>
<circle cx="414.6" cy="350.83" r="3.0" fill="#2ca02c"/>
<text x="430.20" y="352.67" font-size="8.40" font-family="'Liberation Sans', sans-serif" fill="#2e2e2e" stroke="#2e2e2e" stroke-width="0.25" text-anchor="start" textLength="26.07" lengthAdjust="spacingAndGlyphs">PM4.0</text>
<text x="458.98" y="352.67" font-size="8.40" font-family="'Liberation Sans', sans-serif" fill="#2e2e2e" stroke="#2e2e2e" stroke-width="0.25" text-anchor="start" textLength="36.68" lengthAdjust="spacingAndGlyphs">(µg/m3 )</text>
<circle cx="414.6" cy="363.8" r="3.0" fill="#d62728"/>
<text x="430.20" y="365.50" font-size="8.40" font-family="'Liberation Sans', sans-serif" fill="#2e2e2e" stroke="#2e2e2e" stroke-width="0.25" text-anchor="start" textLength="31.49" lengthAdjust="spacingAndGlyphs">PM10.0</text>
<text x="464.41" y="365.50" font-size="8.40" font-family="'Liberation Sans', sans-serif" fill="#2e2e2e" stroke="#2e2e2e" stroke-width="0.25" text-anchor="start" textLength="36.68" lengthAdjust="spacingAndGlyphs">(µg/m3 )</text>
<text x="445.80" y="593.60" font-size="16.20" font-family="'Liberation Serif', serif" fill="#111111" stroke="#111111" stroke-width="0.25" text-anchor="start" textLength="232.20" lengthAdjust="spacingAndGlyphs">(d) Actual vs RF Predicted Outputs.</text>
</svg>
</body></html>
